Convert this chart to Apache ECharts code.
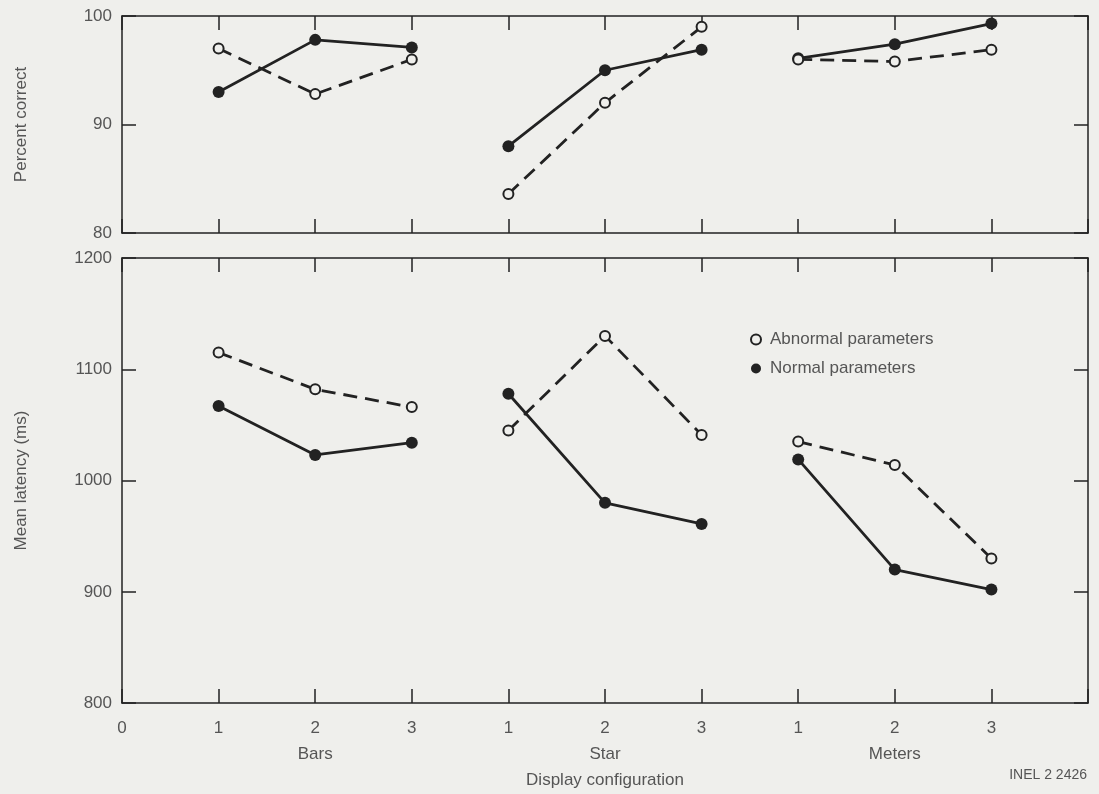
<!DOCTYPE html>
<html>
<head>
<meta charset="utf-8">
<title>Percent correct and mean latency by display configuration</title>
<script src="https://cdn.jsdelivr.net/npm/echarts@6/dist/echarts.min.js"></script>
<style>
  html, body { margin: 0; padding: 0; background: #efefec; }
  #main { width: 1099px; height: 794px; }
</style>
</head>
<body>
<div id="main"></div>
<script>
// positions 1..9 on the x axis, three per display type
var groups = ['Bars', 'Star', 'Meters'];
var tickLabels = ['1', '2', '3', '1', '2', '3', '1', '2', '3'];

// percent correct
var pctAbnormal = [97, 92.8, 96, 83.6, 92, 99, 96, 95.8, 96.9];
var pctNormal = [93, 97.8, 97.1, 88, 95, 96.9, 96.1, 97.4, 99.3];

// mean latency (ms)
var latAbnormal = [1115, 1082, 1066, 1045, 1130, 1041, 1035, 1014, 930];
var latNormal = [1067, 1023, 1034, 1078, 980, 961, 1019, 920, 902];

var ink = '#222', txt = '#555', bg = '#efefec';
var font = '"Liberation Sans", Arial, sans-serif';

var chart = echarts.init(document.getElementById('main'));

// one series per group so lines don't join across groups
function makeSeries(name, vals, grid, dashed) {
  var out = [];
  for (var g = 0; g < 3; g++) {
    var d = [];
    for (var i = 0; i < 3; i++) {
      d.push([g * 3 + i + 1, vals[g * 3 + i]]);
    }
    out.push({
      name: name,
      type: 'line',
      xAxisIndex: grid * 2,
      yAxisIndex: grid * 2,
      data: d,
      symbol: 'circle',
      symbolSize: dashed ? 10 : 12,
      itemStyle: dashed ? { color: bg, borderColor: ink, borderWidth: 2 } : { color: ink },
      lineStyle: { color: ink, width: 2.8, type: dashed ? [14, 8] : 'solid' },
      z: dashed ? 3 : 2
    });
  }
  return out;
}

function xAx(grid, pos, labels) {
  return {
    type: 'value', gridIndex: grid, position: pos, min: 0, max: 10, interval: 1,
    axisLine: { onZero: false, lineStyle: { color: ink, width: 1.5 } },
    axisTick: { inside: true, length: 14, lineStyle: { color: ink, width: 1.5 } },
    splitLine: { show: false },
    axisLabel: labels ? {
      show: true, color: txt, fontFamily: font, fontSize: 17, margin: 12, lineHeight: 26,
      formatter: function (v) {
        if (v === 0) return '0';
        if (v < 1 || v > 9) return '';
        var s = tickLabels[v - 1];
        if ((v - 2) % 3 === 0) s += '\n' + groups[(v - 2) / 3];
        return s;
      }
    } : { show: false },
    name: labels && grid === 1 ? 'Display configuration' : '',
    nameLocation: 'middle', nameGap: 55,
    nameTextStyle: { color: txt, fontFamily: font, fontSize: 17 }
  };
}

function yAx(grid, pos, min, max, step, name) {
  return {
    type: 'value', gridIndex: grid, position: pos, min: min, max: max, interval: step,
    axisLine: { show: true, onZero: false, lineStyle: { color: ink, width: 1.5 } },
    axisTick: { show: true, inside: true, length: 14, lineStyle: { color: ink, width: 1.5 } },
    splitLine: { show: false },
    axisLabel: pos === 'left' ? {
      color: txt, fontFamily: font, fontSize: 17, margin: 10,
      formatter: function (v) { return String(v); }
    } : { show: false },
    name: pos === 'left' ? name : '',
    nameLocation: 'middle', nameGap: 92,
    nameRotate: 90,
    nameTextStyle: { color: txt, fontFamily: font, fontSize: 17 }
  };
}

var series = []
  .concat(makeSeries('Abnormal parameters', pctAbnormal, 0, true))
  .concat(makeSeries('Normal parameters', pctNormal, 0, false))
  .concat(makeSeries('Abnormal parameters', latAbnormal, 1, true))
  .concat(makeSeries('Normal parameters', latNormal, 1, false));

chart.setOption({
  backgroundColor: bg,
  animation: false,
  grid: [
    { left: 122, right: 11, top: 16, height: 217 },
    { left: 122, right: 11, top: 258, height: 449 }
  ],
  xAxis: [
    xAx(0, 'bottom', false), xAx(0, 'top', false),
    xAx(1, 'bottom', true), xAx(1, 'top', false)
  ],
  yAxis: [
    yAx(0, 'left', 80, 100, 10, 'Percent correct'), yAx(0, 'right', 80, 100, 10, ''),
    yAx(1, 'left', 800, 1200, 100, 'Mean latency (ms)'), yAx(1, 'right', 800, 1200, 100, '')
  ],
  legend: {
    orient: 'vertical', left: 745, top: 326, itemGap: 12,
    itemWidth: 10, itemHeight: 10,
    textStyle: { color: txt, fontFamily: font, fontSize: 17, padding: [0, 0, 0, 4] },
    data: [
      { name: 'Abnormal parameters', icon: 'circle' },
      { name: 'Normal parameters', icon: 'circle' }
    ]
  },
  graphic: [{
    type: 'text', right: 12, top: 768,
    style: { text: 'INEL 2 2426', fill: txt, font: '14px ' + font }
  }],
  series: series
});
</script>
</body>
</html>
